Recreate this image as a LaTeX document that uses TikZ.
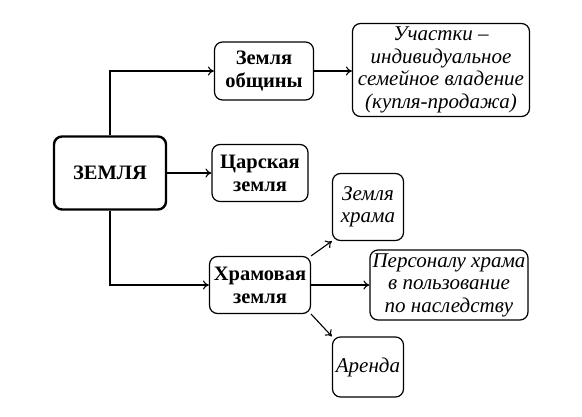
\documentclass[tikz,border=0pt]{standalone}
\usepackage{fontspec}
\setmainfont{Liberation Serif}
\usetikzlibrary{arrows.meta,positioning}
\tikzset{
  box/.style={draw=black, line width=1.2pt, rounded corners=8pt, fill=white,
              align=center, inner sep=1pt, font=\fontsize{20.5}{23}\selectfont\bfseries},
  leaf/.style={box, font=\fontsize{21}{22.5}\selectfont\itshape},
  link/.style={line width=1.1pt, draw=black, -{To[length=6pt,width=9pt]}},
}
\begin{document}
\begin{tikzpicture}[x=1pt, y=-1pt]
\useasboundingbox (0,0) rectangle (582,416);
% root
\node[box, line width=2.4pt, minimum width=112pt, minimum height=73pt] (zemlya) at (110,173) {ЗЕМЛЯ};
% middle column
\node[box, minimum width=99pt, minimum height=58pt] (obshch) at (264,71) {Земля\\общины};
\node[box, minimum width=96pt, minimum height=57pt] (tsar) at (260,173) {Царская\\земля};
\node[box, minimum width=101pt, minimum height=57pt] (hram) at (260,285) {Храмовая\\земля};
% right column
\node[leaf, minimum width=177pt, minimum height=93pt] (uchastki) at (441,70)
  {Участки –\\индивидуальное\\семейное владение\\(купля-продажа)};
\node[leaf, minimum width=71pt, minimum height=67pt] (zhram) at (368,207) {Земля\\храма};
\node[leaf, minimum width=158pt, minimum height=70pt] (personal) at (449,285)
  {Персоналу храма\\в пользование\\по наследству};
\node[leaf, minimum width=71pt, minimum height=60pt] (arenda) at (368,367) {Аренда};
% connectors
\draw[link] (zemlya.north) |- (obshch.west);
\draw[link] (zemlya.east) -- (tsar.west);
\draw[link] (zemlya.south) |- (hram.west);
\draw[link] (obshch.east) -- (obshch.east -| uchastki.west);
\draw[link] (hram.north east) -- (zhram.south west);
\draw[link] (hram.east) -- (personal.west);
\draw[link] (hram.south east) -- (arenda.north west);
\end{tikzpicture}
\end{document}
